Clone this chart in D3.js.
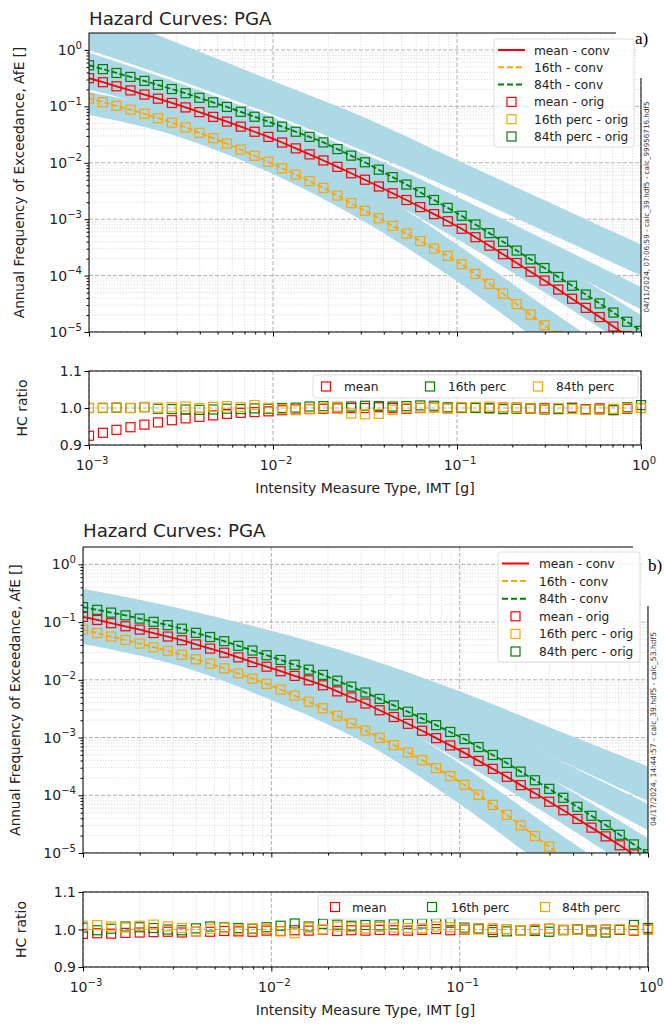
<!DOCTYPE html>
<html><head><meta charset="utf-8">
<script src="https://cdn.jsdelivr.net/npm/d3@7"></script>
<style>body{margin:0;background:#fff}svg{display:block}</style>
</head><body>
<svg id="c" width="664" height="1025"></svg>
<script>
// ---------------- DATA ----------------
const iml = [0.001,0.00119,0.00141,0.00168,0.002,0.00237,0.00282,0.00335,0.00398,0.00473,0.00562,0.00668,0.00794,0.00944,0.0112,0.0133,0.0158,0.0188,0.0224,0.0266,0.0316,0.0376,0.0447,0.0531,0.0631,0.0750,0.0891,0.106,0.126,0.150,0.178,0.211,0.251,0.299,0.355,0.422,0.501,0.596,0.708,0.841,1.0];

const meanA = [0.316,0.268,0.227,0.192,0.162,0.137,0.115,0.0959,0.0791,0.0652,0.0537,0.0437,0.0355,0.0288,0.0229,0.0180,0.0141,0.0110,0.00847,0.00652,0.00501,0.00380,0.00288,0.00219,0.00164,0.00123,0.000920,6.76e-4,4.79e-4,3.39e-4,2.40e-4,1.67e-4,1.17e-4,8.17e-5,5.65e-5,3.89e-5,2.68e-5,1.84e-5,1.25e-5,8.47e-6,5.75e-6];
const p84A = [0.537,0.458,0.391,0.333,0.283,0.240,0.203,0.171,0.142,0.118,0.0977,0.0800,0.0655,0.0536,0.0437,0.0355,0.0288,0.0230,0.0175,0.0134,0.0102,0.00755,0.00557,0.00411,0.00301,0.00219,0.00159,0.00115,8.05e-4,5.66e-4,3.98e-4,2.78e-4,1.94e-4,1.36e-4,9.46e-5,6.61e-5,4.61e-5,3.21e-5,2.21e-5,1.52e-5,1.05e-5];
const p16A = [0.138,0.119,0.102,0.0875,0.0738,0.0617,0.0515,0.0425,0.0340,0.0273,0.0219,0.0171,0.0133,0.0104,0.00802,0.00617,0.00474,0.00359,0.00263,0.00193,0.00141,0.00104,7.59e-4,5.56e-4,4.09e-4,3.02e-4,2.23e-4,1.59e-4,1.07e-4,7.14e-5,4.79e-5,3.12e-5,2.03e-5,1.32e-5,8.47e-6,5.37e-6,3.40e-6,2.14e-6,1.32e-6,8.13e-7,5.01e-7];

const meanB = [0.123,0.109,0.0959,0.0847,0.0741,0.0646,0.0562,0.0485,0.0411,0.0348,0.0295,0.0245,0.0203,0.0169,0.0141,0.0117,0.00982,0.00804,0.00631,0.00495,0.00389,0.00297,0.00227,0.00173,0.00131,9.77e-4,7.31e-4,5.42e-4,3.94e-4,2.87e-4,2.09e-4,1.50e-4,1.08e-4,7.73e-5,5.50e-5,3.89e-5,2.75e-5,1.94e-5,1.36e-5,9.46e-6,6.61e-6];
const p84B = [0.182,0.163,0.146,0.131,0.115,0.101,0.0887,0.0769,0.0652,0.0552,0.0468,0.0388,0.0322,0.0267,0.0221,0.0182,0.0150,0.0122,0.00964,0.00762,0.00603,0.00467,0.00361,0.00280,0.00215,0.00164,0.00125,9.42e-4,6.85e-4,4.99e-4,3.63e-4,2.57e-4,1.82e-4,1.29e-4,9.04e-5,6.31e-5,4.41e-5,3.05e-5,2.07e-5,1.41e-5,9.55e-6];
const p16B = [0.0741,0.0646,0.0562,0.0490,0.0425,0.0367,0.0318,0.0272,0.0227,0.0190,0.0158,0.0129,0.0105,0.00851,0.00676,0.00531,0.00417,0.00321,0.00239,0.00177,0.00132,9.86e-4,7.38e-4,5.52e-4,4.06e-4,2.95e-4,2.15e-4,1.52e-4,1.02e-4,6.82e-5,4.57e-5,3.00e-5,1.97e-5,1.29e-5,8.32e-6,5.31e-6,3.39e-6,2.14e-6,1.32e-6,8.13e-7,5.01e-7];

const ratioMeanA = [0.925,0.933,0.941,0.948,0.955,0.961,0.967,0.972,0.976,0.980,0.984,0.987,0.989,0.991,0.994,0.996,0.997,0.998,0.999,1.000,1.000,1.002,1.000,0.998,1.000,1.001,0.999,1.000,1.001,1.000,1.002,1.001,0.998,1.000,0.999,1.001,0.997,0.999,0.996,0.998,1.000];
const ratio16A = [1.000,1.000,1.001,1.000,1.002,0.998,0.997,0.996,0.995,0.996,0.998,0.997,0.999,0.998,1.000,1.001,1.004,1.005,1.003,1.004,1.006,1.005,1.004,1.005,1.007,1.006,1.002,1.001,1.000,0.999,0.997,0.998,1.000,0.996,0.997,0.999,0.995,0.996,0.994,1.002,1.008];
const ratio84A = [1.000,1.001,1.002,1.000,1.003,1.001,1.002,1.004,1.000,1.003,1.005,1.002,1.008,1.000,0.997,0.994,0.998,1.000,1.002,0.985,0.983,0.984,0.995,1.000,1.001,1.000,0.999,1.002,1.003,1.004,1.002,1.000,0.999,0.998,1.000,0.997,0.995,0.996,0.998,1.000,1.000];
const ratioMeanB = [0.988,0.990,0.989,0.991,0.992,0.993,0.994,0.992,0.995,0.994,0.996,0.995,0.994,0.997,0.996,0.998,0.997,0.999,0.996,0.998,0.997,0.999,0.998,0.997,0.999,1.001,0.998,1.000,1.002,0.999,1.001,0.998,1.000,1.002,0.999,1.001,0.998,1.000,0.999,0.997,1.000];
const ratio16B = [1.005,0.998,1.002,1.008,1.006,1.004,1.000,0.998,1.003,1.008,1.006,1.004,1.002,1.006,1.010,1.016,1.008,1.015,1.013,1.010,1.012,1.011,1.014,1.015,1.016,1.017,1.018,1.005,1.002,0.993,0.995,0.998,0.996,0.994,0.998,1.000,0.995,0.992,1.000,1.012,1.004];
const ratio84B = [1.010,1.012,1.008,1.005,1.010,1.013,1.008,1.004,0.996,1.002,1.005,1.000,1.003,1.002,0.995,0.990,1.005,1.000,1.008,1.006,1.003,1.007,1.005,1.004,1.003,1.008,1.006,1.002,1.000,1.003,1.001,0.998,1.000,1.002,0.999,1.000,0.997,1.000,1.001,0.999,1.000];

// light-blue bands of individual realisations (lower / upper envelopes at bandX)
const bandX = [0.001,0.00316,0.01,0.0316,0.1,0.316,1];
const bandsAUpper = [
  [5.62,1.26,0.282,0.0631,0.0112,0.00200,3.55e-4],
  [0.891,0.251,0.0631,0.0141,0.00251,3.98e-4,6.31e-5],
  [0.631,0.224,0.0631,0.0126,0.00178,2.0e-4,2.0e-5],
  [0.178,0.0794,0.0224,0.00398,3.55e-4,2.51e-5,2.0e-6]];
const bandsALower = [
  [1.0,0.282,0.0708,0.0158,0.00316,5.62e-4,1.0e-4],
  [0.501,0.141,0.0355,0.00794,0.00126,1.78e-4,2.51e-5],
  [0.200,0.0708,0.0178,0.00355,4.47e-4,4.47e-5,3.98e-6],
  [0.0708,0.0282,0.00631,8.91e-4,7.94e-5,5.01e-6,3.16e-7]];
const bandsBUpper = [
  [0.380,0.178,0.0708,0.0240,0.00631,0.00141,3.16e-4],
  [0.282,0.126,0.0479,0.0141,0.00282,4.47e-4,7.08e-5],
  [0.240,0.112,0.0447,0.0112,0.00158,1.78e-4,1.78e-5],
  [0.112,0.0501,0.0178,0.00355,3.55e-4,2.51e-5,2.0e-6]];
const bandsBLower = [
  [0.240,0.105,0.0380,0.0112,0.00251,4.47e-4,7.94e-5],
  [0.178,0.0794,0.0282,0.00708,0.00126,1.78e-4,2.51e-5],
  [0.100,0.0447,0.0141,0.00316,3.98e-4,3.98e-5,3.55e-6],
  [0.0417,0.0178,0.00447,7.94e-4,7.08e-5,4.47e-6,3.16e-7]];

const xMajor = [0.001,0.01,0.1,1];
const yMajor = [1e-5,1e-4,1e-3,1e-2,1e-1,1];
const minorMult = [2,3,4,5,6,7,8,9];
const ratioTicks = [0.9,1.0,1.1];
const legendMain = ["mean - conv","16th - conv","84th - conv","mean - orig","16th perc - orig","84th perc - orig"];
const legendRatio = ["mean","16th perc","84th perc"];
const stamps = ["04/11/2024, 07:06:59 - calc_39.hdf5 - calc_99956716.hdf5","04/17/2024, 14:44:57 - calc_39.hdf5 - calc_53.hdf5"];

// ---------------- STYLE / LAYOUT ----------------
const C = {red:"#ff0000", orange:"#ffa500", green:"#008000", blue:"#add8e6"};
const FONT = "DejaVu Sans, Verdana, sans-serif";
const svg = d3.select("#c");

const panels = [
 {tag:"a)", mx0:89, mx1:641, my0:33, my1:332, ry0:371, ry1:445, titleY:25, ylabX:24, rlabX:27,
  leg:{x0:494,x1:634,y0:39,y1:147,row0:50,dy:17.3,hx0:498,hx1:525,tx:534},
  rleg:{x0:313,x1:638,y0:375,y1:398,cy:386.5,sq:[326,430,538],tx:[344,448,556]},
  tagX:635,tagY:44, mask:[[616,0,48,38],[636,0,28,78]], stampX:649, stampY:207, stampFs:7.2,
  mean:meanA,p16:p16A,p84:p84A, rm:ratioMeanA,r16:ratio16A,r84:ratio84A, bu:bandsAUpper, bl:bandsALower},
 {tag:"b)", mx0:83, mx1:648, my0:547, my1:853, ry0:892, ry1:967, titleY:537, ylabX:20, rlabX:26,
  leg:{x0:498,x1:640,y0:552,y1:662,row0:563.5,dy:17.6,hx0:502,hx1:529,tx:539},
  rleg:{x0:318,x1:645,y0:895,y1:919,cy:907,sq:[335,432,545],tx:[352,451,562]},
  tagX:648,tagY:571, mask:[[633,515,31,36],[642,515,22,91]], stampX:656, stampY:729, stampFs:7.6,
  mean:meanB,p16:p16B,p84:p84B, rm:ratioMeanB,r16:ratio16B,r84:ratio84B, bu:bandsBUpper, bl:bandsBLower}
];

function powLabel(g, x, y, exp, anchor, fs){
  const t = g.append("text").attr("x",x).attr("y",y).attr("text-anchor",anchor)
    .attr("font-family",FONT).attr("font-size",fs).attr("fill","#222");
  t.append("tspan").text("10");
  t.append("tspan").attr("dy",-fs*0.45).attr("font-size",fs*0.72).text(exp<0?"\u2212"+(-exp):String(exp));
}

panels.forEach((p,pi)=>{
  const g = svg.append("g");
  const x = d3.scaleLog().domain([1e-3,1]).range([p.mx0,p.mx1]);
  const y = d3.scaleLog().domain([1e-5,2]).range([p.my1,p.my0]);
  const yr = d3.scaleLinear().domain([0.9,1.1]).range([p.ry1,p.ry0]);
  const xMinor = []; [1e-3,1e-2,1e-1].forEach(d=>minorMult.forEach(m=>xMinor.push(d*m)));
  const yMinor = []; [1e-5,1e-4,1e-3,1e-2,1e-1,1].forEach(d=>minorMult.forEach(m=>{ if(d*m<2) yMinor.push(d*m); }));

  const defs = svg.append("defs");
  defs.append("clipPath").attr("id","cm"+pi).append("rect")
    .attr("x",p.mx0).attr("y",p.my0).attr("width",p.mx1-p.mx0).attr("height",p.my1-p.my0);
  defs.append("clipPath").attr("id","cr"+pi).append("rect")
    .attr("x",p.mx0).attr("y",p.ry0-6).attr("width",p.mx1-p.mx0+6).attr("height",p.ry1-p.ry0+12);

  // ---------- main grid ----------
  const gm = g.append("g").attr("clip-path",`url(#cm${pi})`);
  gm.selectAll(".vmin").data(xMinor).join("line").attr("x1",d=>x(d)).attr("x2",d=>x(d))
    .attr("y1",p.my0).attr("y2",p.my1).attr("stroke","#cfcfcf").attr("stroke-width",0.7).attr("stroke-dasharray","1.2,1.6");
  gm.selectAll(".hmin").data(yMinor).join("line").attr("y1",d=>y(d)).attr("y2",d=>y(d))
    .attr("x1",p.mx0).attr("x2",p.mx1).attr("stroke","#cfcfcf").attr("stroke-width",0.7).attr("stroke-dasharray","1.2,1.6");
  gm.selectAll(".vmaj").data(xMajor).join("line").attr("x1",d=>x(d)).attr("x2",d=>x(d))
    .attr("y1",p.my0).attr("y2",p.my1).attr("stroke","#a8a8a8").attr("stroke-width",0.9).attr("stroke-dasharray","4,2");
  gm.selectAll(".hmaj").data(yMajor).join("line").attr("y1",d=>y(d)).attr("y2",d=>y(d))
    .attr("x1",p.mx0).attr("x2",p.mx1).attr("stroke","#a8a8a8").attr("stroke-width",0.9).attr("stroke-dasharray","4,2");

  // ---------- blue bands ----------
  const area = d3.area().x(d=>x(d[0])).y0(d=>y(d[1])).y1(d=>y(d[2])).curve(d3.curveMonotoneX);
  p.bu.forEach((up,bi)=>{
    const pts = bandX.map((bx,i)=>[bx,p.bl[bi][i],up[i]]);
    gm.append("path").attr("d",area(pts)).attr("fill",C.blue);
  });

  // ---------- conv lines + orig markers ----------
  const line = d3.line().x((d,i)=>x(iml[i])).y(d=>y(d));
  const series = [
    {v:p.mean,c:C.red,dash:null},
    {v:p.p16,c:C.orange,dash:"5.5,2.4"},
    {v:p.p84,c:C.green,dash:"5.5,2.4"}];
  series.forEach(s=>{
    gm.append("path").attr("d",line(s.v)).attr("fill","none").attr("stroke",s.c)
      .attr("stroke-width",1.8).attr("stroke-dasharray",s.dash);
  });
  series.forEach(s=>{
    gm.selectAll(null).data(s.v).join("rect")
      .attr("x",(d,i)=>x(iml[i])-4.5).attr("y",d=>y(d)-4.5).attr("width",9).attr("height",9)
      .attr("fill","none").attr("stroke",s.c).attr("stroke-width",1.2);
  });

  // ---------- main axes ----------
  g.append("g").attr("transform",`translate(${p.mx0},0)`)
    .call(d3.axisLeft(y).tickValues(yMinor).tickSize(2.5).tickFormat("")).call(a=>a.select(".domain").remove());
  g.append("g").attr("transform",`translate(${p.mx0},0)`)
    .call(d3.axisLeft(y).tickValues(yMajor).tickSize(4.5).tickFormat("")).call(a=>a.select(".domain").remove());
  g.append("g").attr("transform",`translate(0,${p.my1})`)
    .call(d3.axisBottom(x).tickValues(xMinor).tickSize(2.5).tickFormat("")).call(a=>a.select(".domain").remove());
  g.append("g").attr("transform",`translate(0,${p.my1})`)
    .call(d3.axisBottom(x).tickValues(xMajor).tickSize(4.5).tickFormat("")).call(a=>a.select(".domain").remove());
  g.append("rect").attr("x",p.mx0).attr("y",p.my0).attr("width",p.mx1-p.mx0).attr("height",p.my1-p.my0)
    .attr("fill","none").attr("stroke","#000").attr("stroke-width",1);
  yMajor.forEach(v=>powLabel(g, p.mx0-7, y(v)+5, Math.round(Math.log10(v)), "end", 14));

  // ---------- ratio panel ----------
  const gr = g.append("g");
  gr.selectAll(".rvmin").data(xMinor).join("line").attr("x1",d=>x(d)).attr("x2",d=>x(d))
    .attr("y1",p.ry0).attr("y2",p.ry1).attr("stroke","#cfcfcf").attr("stroke-width",0.7).attr("stroke-dasharray","1.2,1.6");
  gr.selectAll(".rvmaj").data(xMajor).join("line").attr("x1",d=>x(d)).attr("x2",d=>x(d))
    .attr("y1",p.ry0).attr("y2",p.ry1).attr("stroke","#a8a8a8").attr("stroke-width",0.9).attr("stroke-dasharray","4,2");
  gr.selectAll(".rhmaj").data(ratioTicks).join("line").attr("y1",d=>yr(d)).attr("y2",d=>yr(d))
    .attr("x1",p.mx0).attr("x2",p.mx1).attr("stroke","#a8a8a8").attr("stroke-width",0.9).attr("stroke-dasharray","4,2");
  const grc = gr.append("g").attr("clip-path",`url(#cr${pi})`);
  [{v:p.rm,c:C.red},{v:p.r16,c:C.green},{v:p.r84,c:C.orange}].forEach(s=>{
    grc.selectAll(null).data(s.v).join("rect")
      .attr("x",(d,i)=>x(iml[i])-4.5).attr("y",d=>yr(d)-4.5).attr("width",9).attr("height",9)
      .attr("fill","none").attr("stroke",s.c).attr("stroke-width",1.2);
  });
  g.append("g").attr("transform",`translate(${p.mx0},0)`)
    .call(d3.axisLeft(yr).tickValues(ratioTicks).tickSize(4.5).tickFormat("")).call(a=>a.select(".domain").remove());
  g.append("g").attr("transform",`translate(0,${p.ry1})`)
    .call(d3.axisBottom(x).tickValues(xMinor).tickSize(2.5).tickFormat("")).call(a=>a.select(".domain").remove());
  g.append("g").attr("transform",`translate(0,${p.ry1})`)
    .call(d3.axisBottom(x).tickValues(xMajor).tickSize(4.5).tickFormat("")).call(a=>a.select(".domain").remove());
  g.append("rect").attr("x",p.mx0).attr("y",p.ry0).attr("width",p.mx1-p.mx0).attr("height",p.ry1-p.ry0)
    .attr("fill","none").attr("stroke","#000").attr("stroke-width",1);
  ratioTicks.forEach(v=>g.append("text").attr("x",p.mx0-7).attr("y",yr(v)+5).attr("text-anchor","end")
    .attr("font-family",FONT).attr("font-size",14).attr("fill","#222").text(v.toFixed(1)));
  xMajor.forEach(v=>powLabel(g, x(v)+3, p.ry1+25, Math.round(Math.log10(v)), "middle", 14));

  // ratio legend
  const rl = p.rleg;
  g.append("rect").attr("x",rl.x0).attr("y",rl.y0).attr("width",rl.x1-rl.x0).attr("height",rl.y1-rl.y0)
    .attr("rx",3).attr("fill","#fff").attr("fill-opacity",0.8).attr("stroke","#d6d6d6").attr("stroke-width",0.8);
  [C.red,C.green,C.orange].forEach((c,i)=>{
    g.append("rect").attr("x",rl.sq[i]-4.5).attr("y",rl.cy-4.5).attr("width",9).attr("height",9)
      .attr("fill","none").attr("stroke",c).attr("stroke-width",1.2);
    g.append("text").attr("x",rl.tx[i]).attr("y",rl.cy+4.5).attr("font-family",FONT).attr("font-size",12.2)
      .attr("fill","#222").text(legendRatio[i]);
  });

  // ---------- labels ----------
  g.append("text").attr("x",p.mx0).attr("y",p.titleY).attr("font-family",FONT).attr("font-size",18.2)
    .attr("fill","#222").text("Hazard Curves: PGA");
  g.append("text").attr("transform",`translate(${p.ylabX},${(p.my0+p.my1)/2}) rotate(-90)`).attr("text-anchor","middle")
    .attr("font-family",FONT).attr("font-size",13.6).attr("fill","#222").text("Annual Frequency of Exceedance, AfE []");
  g.append("text").attr("transform",`translate(${p.rlabX},${(p.ry0+p.ry1)/2}) rotate(-90)`).attr("text-anchor","middle")
    .attr("font-family",FONT).attr("font-size",14).attr("fill","#222").text("HC ratio");
  g.append("text").attr("x",(p.mx0+p.mx1)/2).attr("y",p.ry1+48).attr("text-anchor","middle")
    .attr("font-family",FONT).attr("font-size",14).attr("fill","#222").text("Intensity Measure Type, IMT [g]");

  // mask of the pasted panel tag
  p.mask.forEach(m=>g.append("rect").attr("x",m[0]).attr("y",m[1]).attr("width",m[2]).attr("height",m[3]).attr("fill","#fff"));

  // main legend
  const L = p.leg;
  g.append("rect").attr("x",L.x0).attr("y",L.y0).attr("width",L.x1-L.x0).attr("height",L.y1-L.y0)
    .attr("rx",3).attr("fill","#fff").attr("fill-opacity",0.85).attr("stroke","#d6d6d6").attr("stroke-width",0.8);
  const legC = [C.red,C.orange,C.green,C.red,C.orange,C.green];
  legendMain.forEach((t,i)=>{
    const cy = L.row0 + i*L.dy;
    if(i<3){
      g.append("line").attr("x1",L.hx0).attr("x2",L.hx1).attr("y1",cy).attr("y2",cy).attr("stroke",legC[i])
        .attr("stroke-width",2).attr("stroke-dasharray",i===0?null:"6,3");
    } else {
      g.append("rect").attr("x",(L.hx0+L.hx1)/2-4.5).attr("y",cy-4.5).attr("width",9).attr("height",9)
        .attr("fill","none").attr("stroke",legC[i]).attr("stroke-width",1.2);
    }
    g.append("text").attr("x",L.tx).attr("y",cy+4.5).attr("font-family",FONT).attr("font-size",12.2)
      .attr("fill","#222").text(t);
  });

  // panel tag
  g.append("text").attr("x",p.tagX).attr("y",p.tagY).attr("font-family","Liberation Serif, Times New Roman, serif")
    .attr("font-size",17).attr("fill","#000").text(p.tag);

  // run stamp
  g.append("text").attr("transform",`translate(${p.stampX},${p.stampY}) rotate(-90)`).attr("text-anchor","middle")
    .attr("font-family",FONT).attr("font-size",p.stampFs).attr("fill","#333").text(stamps[pi]);
});
</script>
</body></html>
